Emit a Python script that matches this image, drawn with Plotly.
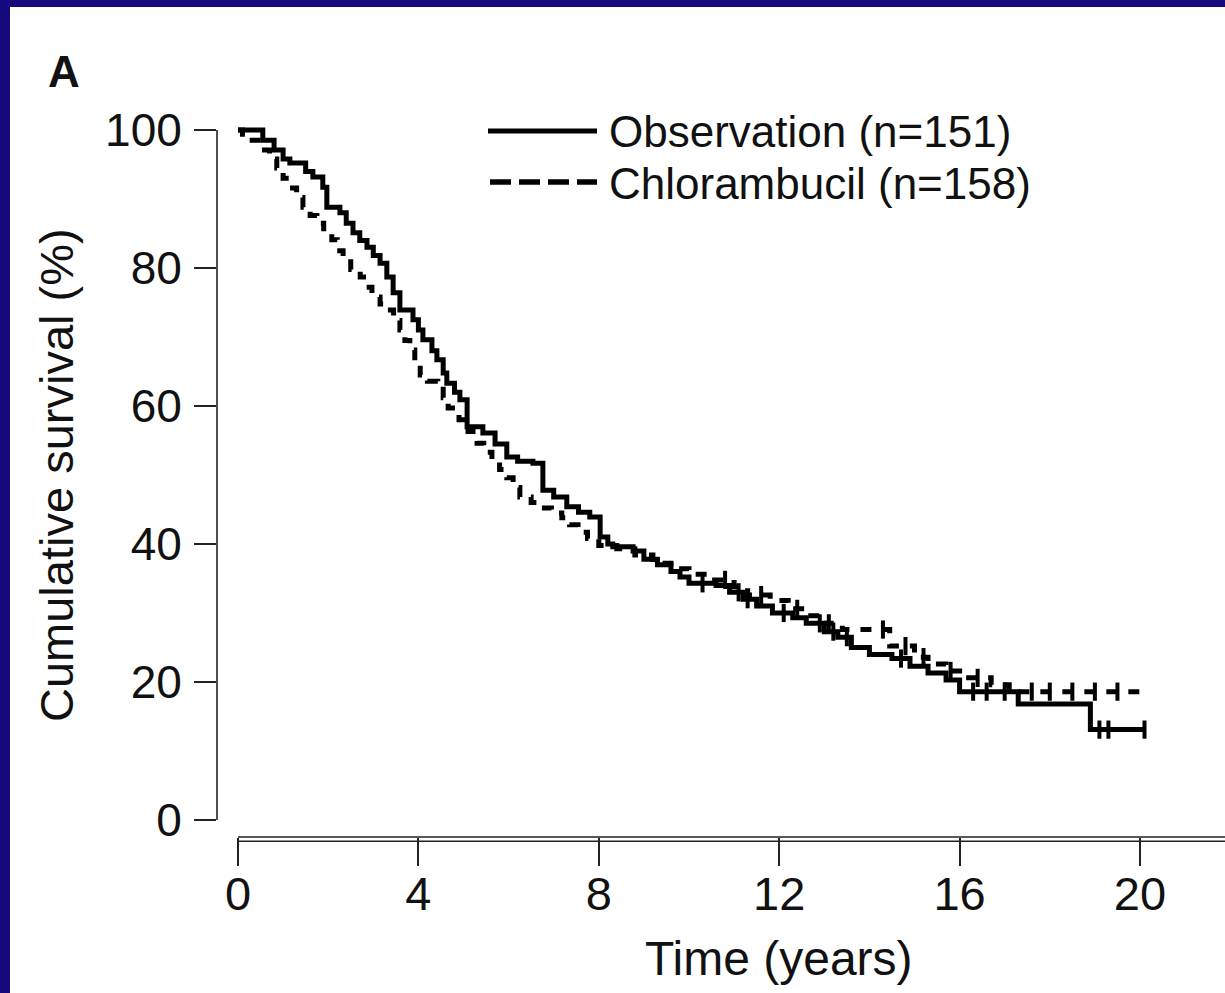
import numpy as np
import plotly.graph_objects as go

# ---- Kaplan-Meier estimates: time (years) and cumulative survival (%) ----
obs_time = [0, 0.55, 0.8, 1.0, 1.15, 1.5, 1.66, 1.88, 1.97, 2.26, 2.4, 2.55, 2.7, 2.86, 3.0,
            3.15, 3.3, 3.44, 3.59, 3.88, 4.0, 4.1, 4.3, 4.41, 4.55, 4.63, 4.8, 4.92, 5.08, 5.43,
            5.7, 5.96, 6.2, 6.54, 6.76, 7.0, 7.29, 7.55, 7.8, 8.03, 8.2, 8.31, 8.76, 9.0, 9.3,
            9.6, 9.8, 10.0, 10.6, 10.9, 11.2, 11.5, 11.85, 12.3, 12.6, 13.0, 13.3, 13.6, 14.0, 14.5,
            14.9, 15.3, 15.7, 16.0, 17.3, 18.9, 20.1]
obs_surv = [100, 98.5, 97.1, 95.8, 95.2, 94.0, 93.2, 91.7, 88.8, 88.0, 86.5, 85.1, 84.0, 83.0, 81.8,
            80.7, 78.7, 76.4, 73.9, 72.5, 71.0, 69.6, 68.0, 66.7, 64.8, 63.3, 62.0, 60.9, 57.0, 56.1,
            54.5, 52.6, 52.0, 51.7, 47.8, 46.8, 45.4, 44.6, 43.9, 41.0, 40.0, 39.6, 39.0, 37.8, 37.0,
            36.0, 35.2, 34.3, 34.0, 33.0, 32.0, 31.0, 30.0, 29.3, 28.5, 27.3, 26.5, 25.0, 24.0, 23.4,
            22.3, 21.3, 20.3, 18.6, 16.8, 13.1, 13.1]

chl_time = [0, 0.1, 0.25, 0.53, 0.7, 0.86, 1.0, 1.15, 1.3, 1.44, 1.6, 1.75, 1.9, 2.08, 2.2,
            2.33, 2.5, 2.71, 2.85, 2.97, 3.15, 3.3, 3.45, 3.59, 3.7, 3.81, 3.92, 4.04, 4.2, 4.43,
            4.55, 4.66, 4.9, 5.1, 5.3, 5.45, 5.63, 5.8, 5.96, 6.1, 6.25, 6.5, 6.7, 6.95, 7.18,
            7.35, 7.54, 7.75, 8.0, 8.4, 8.8, 9.2, 9.6, 10.0, 10.5, 11.0, 11.3, 11.8, 12.2, 12.6,
            13.0, 13.4, 14.45, 15.0, 15.3, 15.7, 16.0, 16.7, 17.1, 20.0]
chl_surv = [100, 99.4, 98.5, 97.1, 95.8, 94.5, 93.0, 91.6, 90.2, 88.8, 87.6, 86.5, 85.3, 84.1, 82.5,
            80.9, 79.8, 78.7, 77.2, 75.8, 74.8, 73.9, 72.4, 71.0, 69.5, 68.1, 66.3, 64.5, 63.6, 62.8,
            61.2, 59.7, 58.0, 56.3, 54.6, 53.3, 51.9, 50.8, 49.6, 48.2, 46.8, 46.0, 45.2, 44.5, 43.8,
            42.8, 41.7, 40.8, 39.8, 39.3, 38.4, 37.2, 36.4, 35.6, 34.8, 33.8, 32.6, 31.8, 30.6, 29.6,
            28.5, 27.6, 25.2, 23.6, 22.6, 21.6, 20.6, 19.6, 18.6, 18.6]

# censored observations (years)
obs_censor = [10.3, 11.1, 11.3, 12.1, 12.9, 13.2, 13.5, 14.7, 16.3, 16.6, 17.0, 19.1, 19.3, 20.1]
chl_censor = [10.8, 11.6, 12.4, 13.1, 14.3, 14.8, 15.2, 15.8, 16.4, 17.6, 18.0, 18.5, 19.0, 19.5]

series_names = ["Observation (n=151)", "Chlorambucil (n=158)"]
x_ticks = [0, 4, 8, 12, 16, 20]
y_ticks = [0, 20, 40, 60, 80, 100]
x_title = "Time (years)"
y_title = "Cumulative survival (%)"
panel_label = "A"

# ---- page geometry (pixels) ----
W, H = 1225, 993
L, R, T, B = 217, 0, 110, 156
PW, PH = W - L - R, H - T - B
X_RANGE = [-0.4656, 21.8847]
Y_RANGE = [-2.4638, 102.8986]

FONT = "Liberation Sans, Arial, Helvetica, sans-serif"
INK = "#111111"
AXIS_INK = "#222222"
FRAME = "#16097e"


def px_x(p):
    return (p - L) / PW


def px_y(p):
    return (H - B - p) / PH


def data_x(v):
    return (v - X_RANGE[0]) / (X_RANGE[1] - X_RANGE[0])


def data_y(v):
    return (v - Y_RANGE[0]) / (Y_RANGE[1] - Y_RANGE[0])


def step_value(times, surv, t):
    i = np.searchsorted(np.asarray(times), t, side="right") - 1
    return np.asarray(surv)[np.clip(i, 0, len(surv) - 1)]


fig = go.Figure()

fig.add_trace(go.Scatter(
    x=obs_time, y=obs_surv, mode="lines", name=series_names[0],
    line=dict(shape="hv", color="black", width=5), showlegend=False))
fig.add_trace(go.Scatter(
    x=chl_time, y=chl_surv, mode="lines", name=series_names[1],
    line=dict(shape="hv", color="black", width=5, dash="11px,11px"), showlegend=False))

# censoring ticks sit on their own curve
fig.add_trace(go.Scatter(
    x=obs_censor, y=step_value(obs_time, obs_surv, obs_censor), mode="markers",
    marker=dict(symbol="line-ns", size=13, line=dict(width=4, color="black")),
    showlegend=False, hoverinfo="skip"))
fig.add_trace(go.Scatter(
    x=chl_censor, y=step_value(chl_time, chl_surv, chl_censor), mode="markers",
    marker=dict(symbol="line-ns", size=13, line=dict(width=4, color="black")),
    showlegend=False, hoverinfo="skip"))

shapes = [
    # white slide panel inside the dark frame
    dict(type="rect", xref="paper", yref="paper", layer="below",
         x0=px_x(10), x1=px_x(W + 5), y0=px_y(H + 5), y1=px_y(7),
         fillcolor="white", line=dict(width=0)),
    # detached y axis line (0-100)
    dict(type="line", xref="paper", yref="paper", x0=0, x1=0,
         y0=data_y(0), y1=data_y(100), line=dict(color=AXIS_INK, width=1.6)),
    # double x axis line starting at t=0
    dict(type="line", xref="paper", yref="paper", x0=data_x(0), x1=1.0,
         y0=0, y1=0, line=dict(color=AXIS_INK, width=1.6)),
    dict(type="line", xref="paper", yref="paper", x0=data_x(0), x1=1.0,
         y0=px_y(H - B + 4.3), y1=px_y(H - B + 4.3), line=dict(color=AXIS_INK, width=1.6)),
    # legend samples
    dict(type="line", xref="paper", yref="paper", x0=px_x(488), x1=px_x(597),
         y0=px_y(131), y1=px_y(131), line=dict(color="black", width=5)),
    dict(type="line", xref="paper", yref="paper", x0=px_x(490), x1=px_x(597),
         y0=px_y(182), y1=px_y(182), line=dict(color="black", width=5.5, dash="21px,8px")),
]

annotations = [
    dict(text=f"<b>{panel_label}</b>", xref="paper", yref="paper", x=px_x(64), y=px_y(72),
         xanchor="center", yanchor="middle", showarrow=False,
         font=dict(family=FONT, size=44, color=INK)),
    dict(text=series_names[0], xref="paper", yref="paper", x=px_x(607), y=px_y(131),
         xanchor="left", yanchor="middle", showarrow=False,
         font=dict(family=FONT, size=44, color=INK)),
    dict(text=series_names[1], xref="paper", yref="paper", x=px_x(607), y=px_y(183),
         xanchor="left", yanchor="middle", showarrow=False,
         font=dict(family=FONT, size=44, color=INK)),
    dict(text=x_title, xref="paper", yref="paper", x=data_x(12), y=px_y(958),
         xanchor="center", yanchor="middle", showarrow=False,
         font=dict(family=FONT, size=48, color=INK)),
    dict(text=y_title, xref="paper", yref="paper", x=px_x(56), y=data_y(50),
         xanchor="center", yanchor="middle", showarrow=False, textangle=-90,
         font=dict(family=FONT, size=47, color=INK)),
]

fig.update_layout(
    width=W, height=H, autosize=False,
    margin=dict(l=L, r=R, t=T, b=B, pad=0),
    paper_bgcolor=FRAME, plot_bgcolor="white",
    showlegend=False,
    shapes=shapes, annotations=annotations,
    xaxis=dict(range=X_RANGE, tickvals=x_ticks, ticktext=[str(v) for v in x_ticks],
               ticks="outside", ticklen=28, tickwidth=1.6, tickcolor=AXIS_INK,
               ticklabelstandoff=-12,
               showgrid=False, zeroline=False, showline=False,
               tickfont=dict(family=FONT, size=47, color=INK)),
    yaxis=dict(range=Y_RANGE, tickvals=y_ticks, ticktext=[str(v) for v in y_ticks],
               ticks="outside", ticklen=22, tickwidth=1.6, tickcolor=AXIS_INK,
               ticklabelstandoff=3,
               showgrid=False, zeroline=False, showline=False,
               tickfont=dict(family=FONT, size=46, color=INK)),
)

fig.write_html("out.html")
